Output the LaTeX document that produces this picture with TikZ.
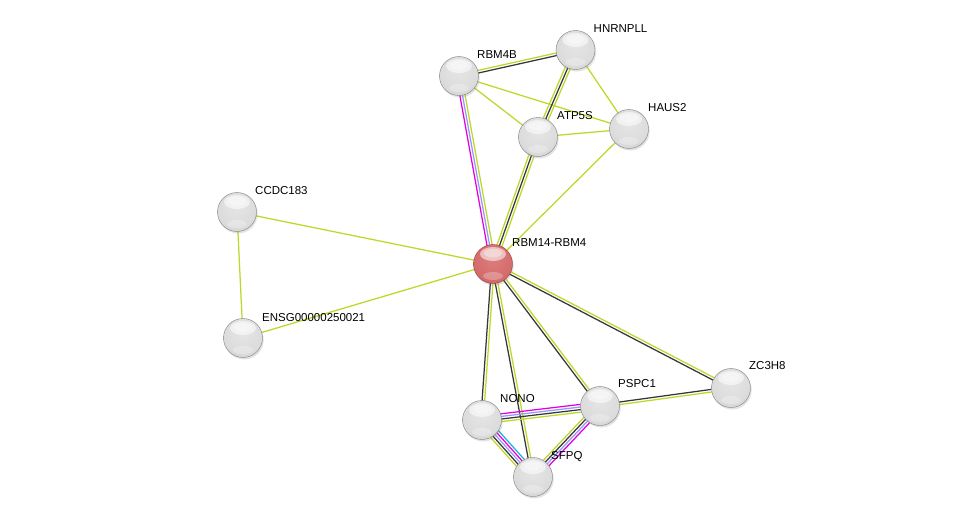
\documentclass[tikz,border=0pt]{standalone}
\usepackage{fontspec}
\setmainfont{Liberation Sans}
\usetikzlibrary{calc,shadows}
\definecolor{tm}{RGB}{190,216,40}
\definecolor{cx}{RGB}{55,55,55}
\definecolor{ex}{RGB}{225,0,225}
\definecolor{ho}{RGB}{150,150,255}
\definecolor{db}{RGB}{30,180,215}
\pgfdeclareradialshading{greyball}{\pgfpoint{0bp}{8bp}}{%
  color(0bp)=(white!90!black); color(25bp)=(white!86!black); color(42bp)=(white!78!black);
  color(52bp)=(white!62!black); color(58bp)=(white!48!black); color(75bp)=(white!42!black)}
\pgfdeclareradialshading{redball}{\pgfpoint{0bp}{8bp}}{%
  color(0bp)=(rgb,255:red,222;green,125;blue,125); color(25bp)=(rgb,255:red,212;green,108;blue,108);
  color(42bp)=(rgb,255:red,198;green,90;blue,90); color(52bp)=(rgb,255:red,170;green,65;blue,65);
  color(58bp)=(rgb,255:red,140;green,50;blue,50); color(75bp)=(rgb,255:red,125;green,42;blue,42)}
\pgfdeclareradialshading{glare}{\pgfpoint{0bp}{0bp}}{%
  color(0bp)=(white); color(30bp)=(white); color(50bp)=(white!0!black)}
\pgfdeclarelayer{back}
\pgfdeclarelayer{bg}
\pgfsetlayers{back,bg,main}
\newcommand\medge[4]{%
  \foreach \cc [count=\ii] in {#4} {%
    \pgfmathsetmacro\off{(\ii-1-(#3-1)/2)*2.6}%
    \draw[edge,\cc] ($(#1)!\off pt!90:(#2)$) -- ($(#2)!\off pt!-90:(#1)$);
  }%
}
\tikzset{
  ball/.style={circle, minimum size=39pt, inner sep=0pt, shading=greyball,
    draw=white!50!black, line width=0.4pt,
    drop shadow={shadow xshift=1.2pt, shadow yshift=-2pt, opacity=0.22},
    path picture={
      \fill[white,opacity=0.55] ([yshift=10pt]path picture bounding box.center) ellipse (13pt and 7pt);
      \fill[white,opacity=0.35] ([yshift=11pt]path picture bounding box.center) ellipse (9pt and 4.5pt);
      \fill[white,opacity=0.25] ([yshift=-12pt]path picture bounding box.center) ellipse (10pt and 4pt);
    }},
  qball/.style={ball, shading=redball, draw=white!40!red!60!black},
  lab/.style={anchor=west, inner sep=0pt, text height=8.2pt, text depth=0pt,
    font=\fontsize{11.5}{13}\selectfont},
  edge/.style={line width=1.25pt}
}
\begin{document}
\begin{tikzpicture}[x=1pt,y=-1pt]
\begin{pgfonlayer}{back}
\fill[white] (0,0) rectangle (975,522);
\end{pgfonlayer}
\useasboundingbox (0,0) rectangle (975,522);
% nodes
\node[ball]  (rbm4b)   at (459,76)  {};
\node[ball]  (hnrnpll) at (575.5,50) {};
\node[ball]  (atp5s)   at (538,137) {};
\node[ball]  (haus2)   at (629,129) {};
\node[ball]  (ccdc)    at (237,212) {};
\node[qball] (rbm14)   at (493,264) {};
\node[ball]  (ensg)    at (243,338) {};
\node[ball]  (zc3h8)   at (731,388) {};
\node[ball]  (pspc1)   at (600,406) {};
\node[ball]  (nono)    at (482,420) {};
\node[ball]  (sfpq)    at (533,477) {};
% labels
\node[lab] (l-rbm4b)   at ([shift={(18,-22)}]rbm4b.center)   {RBM4B};
\node[lab] (l-hnrnpll) at ([shift={(18,-22)}]hnrnpll.center) {HNRNPLL};
\node[lab] (l-atp5s)   at ([shift={(19,-22)}]atp5s.center)   {ATP5S};
\node[lab] (l-haus2)   at ([shift={(19,-22)}]haus2.center)   {HAUS2};
\node[lab] (l-ccdc)    at ([shift={(18,-22)}]ccdc.center)    {CCDC183};
\node[lab] (l-rbm14)   at ([shift={(19,-22)}]rbm14.center)   {RBM14-RBM4};
\node[lab] (l-ensg)    at ([shift={(19,-21)}]ensg.center)    {ENSG00000250021};
\node[lab] (l-zc3h8)   at ([shift={(18,-23)}]zc3h8.center)   {ZC3H8};
\node[lab] (l-pspc1)   at ([shift={(18,-23)}]pspc1.center)   {PSPC1};
\node[lab] (l-nono)    at ([shift={(18,-22)}]nono.center)    {NONO};
\node[lab] (l-sfpq)    at ([shift={(18,-22)}]sfpq.center)    {SFPQ};
% edges
\begin{pgfonlayer}{bg}
\medge{rbm4b}{hnrnpll}{2}{cx,tm}
\medge{rbm4b}{atp5s}{1}{tm}
\medge{rbm4b}{haus2}{1}{tm}
\medge{rbm4b}{rbm14}{3}{ex,ho,tm}
\medge{hnrnpll}{atp5s}{3}{tm,cx,tm}
\medge{hnrnpll}{haus2}{1}{tm}
\medge{atp5s}{haus2}{1}{tm}
\medge{atp5s}{rbm14}{3}{tm,cx,tm}
\medge{haus2}{rbm14}{1}{tm}
\medge{ccdc}{rbm14}{1}{tm}
\medge{ccdc}{ensg}{1}{tm}
\medge{ensg}{rbm14}{1}{tm}
\medge{rbm14}{zc3h8}{2}{cx,tm}
\medge{rbm14}{pspc1}{2}{cx,tm}
\medge{rbm14}{nono}{2}{cx,tm}
\medge{rbm14}{sfpq}{2}{cx,tm}
\medge{pspc1}{zc3h8}{2}{tm,cx}
\medge{nono}{pspc1}{4}{tm,cx,ho,ex}
\medge{nono}{sfpq}{5}{tm,cx,ho,ex,db}
\medge{pspc1}{sfpq}{4}{tm,cx,ho,ex}
\end{pgfonlayer}
\end{tikzpicture}
\end{document}
